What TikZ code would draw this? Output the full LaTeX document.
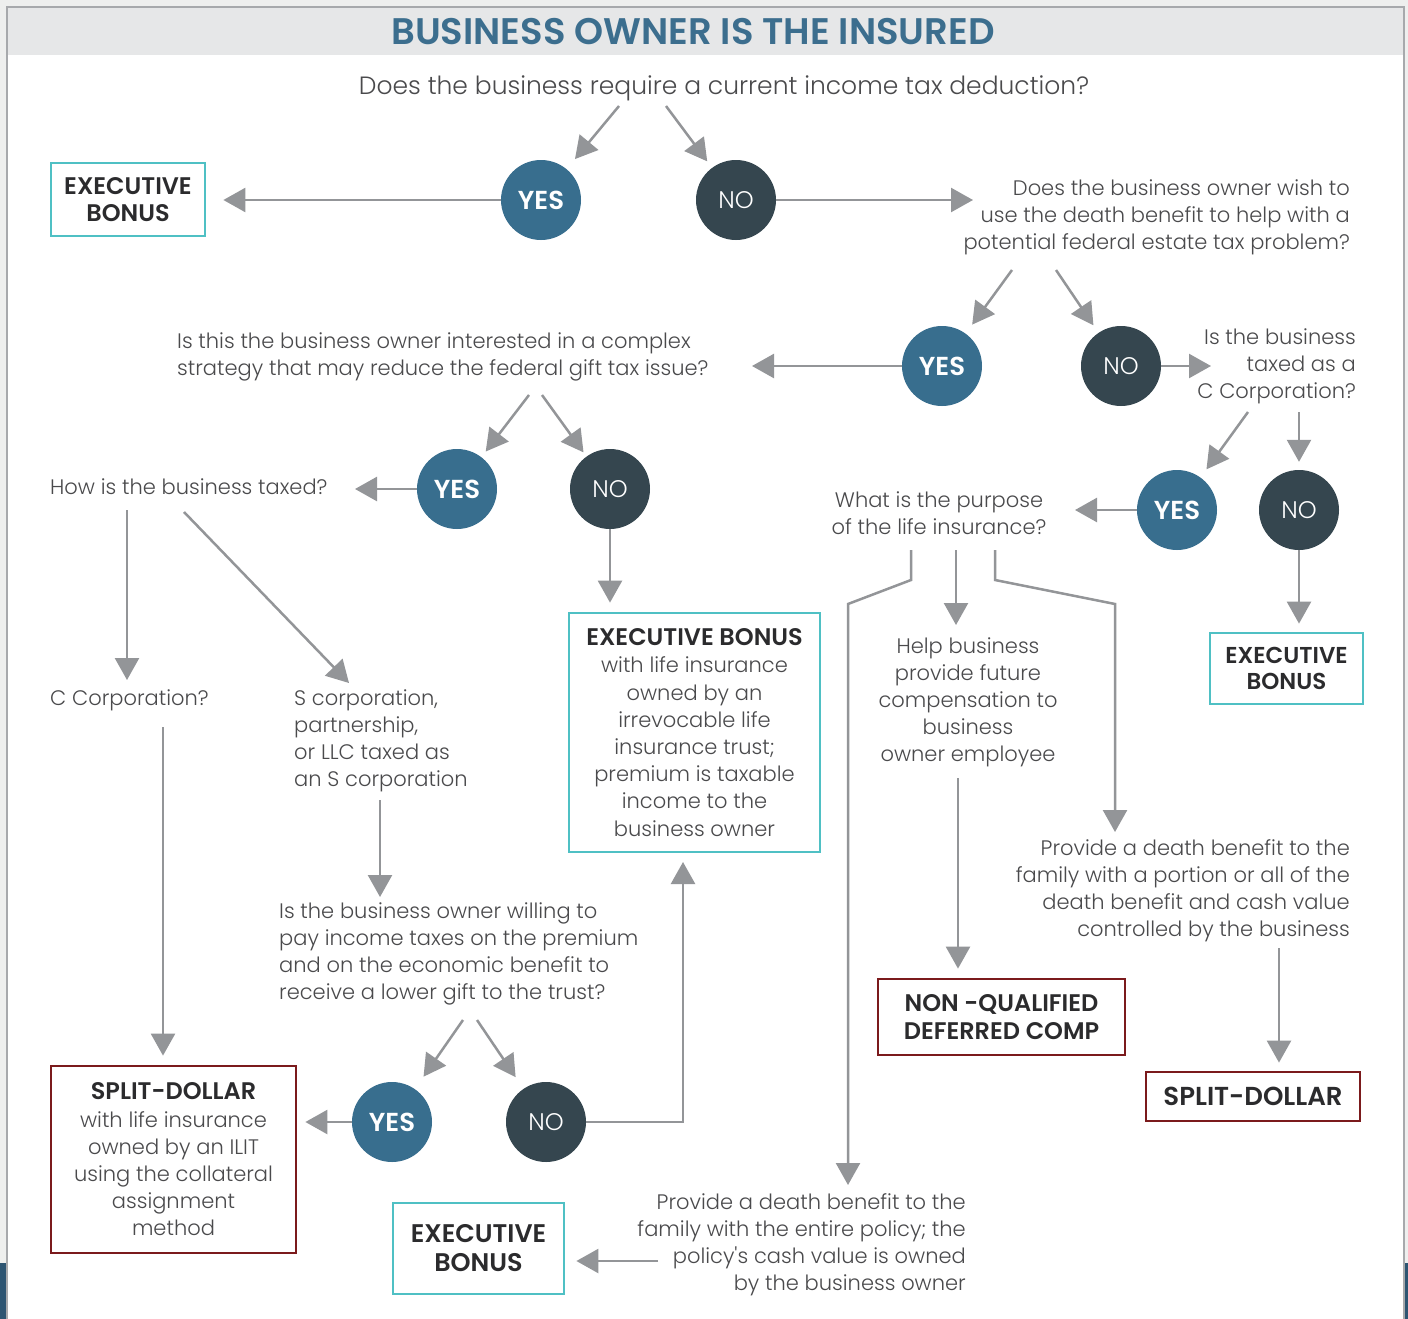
\documentclass[tikz,border=0pt]{standalone}
\usepackage{fontspec}
\setmainfont{Poppins}[UprightFont=* Light, BoldFont=* SemiBold, Ligatures=TeXOff]
\usetikzlibrary{arrows.meta,calc}

\definecolor{pagebg}{HTML}{EEEFEE}
\definecolor{bandgray}{HTML}{E6E7E8}
\definecolor{framegray}{HTML}{A7A9AC}
\definecolor{titleblue}{HTML}{3C6E8E}
\definecolor{yesblue}{HTML}{386E8E}
\definecolor{nodark}{HTML}{35464F}
\definecolor{arrowgray}{HTML}{939598}
\definecolor{bodygray}{HTML}{4A4A4C}
\definecolor{labeldark}{HTML}{2B2B2D}
\definecolor{tealc}{HTML}{4FC0C4}
\definecolor{maroon}{HTML}{7B1A1C}
\definecolor{edgeblue}{HTML}{2D5572}

% heading line inside a descriptive outcome box
\newcommand{\boxhead}[1]{{\color{labeldark}\fontsize{24}{27}\selectfont\bfseries #1}}

\tikzset{
  arr/.style={draw=arrowgray, line width=2.5pt, -{Triangle[length=22pt,width=24pt]}},
  yesc/.style={circle, fill=yesblue, minimum size=80pt, inner sep=0pt, text=white,
    font=\fontsize{26}{30}\selectfont\bfseries},
  noc/.style={circle, fill=nodark, minimum size=80pt, inner sep=0pt, text=white,
    font=\fontsize{24}{28}\selectfont},
  qtext/.style={inner sep=0pt, text=bodygray, font=\fontsize{21}{27}\selectfont},
  bigq/.style={inner sep=0pt, text=bodygray, font=\fontsize{25}{29}\selectfont},
  tealbox/.style={draw=tealc, line width=2.8pt, inner sep=0pt, align=center,
    text=labeldark, font=\fontsize{24}{27}\selectfont\bfseries},
  redbox/.style={draw=maroon, line width=2.8pt, inner sep=0pt, align=center,
    text=labeldark, font=\fontsize{24}{27}\selectfont\bfseries},
  boxbody/.style={text=bodygray, font=\fontsize{21}{27.2}\selectfont},
}

\begin{document}
\begin{tikzpicture}[x=1pt, y=-1pt]
  \useasboundingbox (0,0) rectangle (1408,1319);

  % page, frame and header band
  \fill[pagebg] (0,0) rectangle (1408,1319);
  \fill[edgeblue] (0,1263) rectangle (6,1319);
  \fill[edgeblue] (1405,1263) rectangle (1408,1319);
  \filldraw[fill=white, draw=framegray, line width=2.5pt] (7,7) rectangle (1404,1335);
  \fill[bandgray] (8.3,8.3) rectangle (1402.7,55);
  \node[text=titleblue, font=\fontsize{37}{40}\selectfont\bfseries, inner sep=0pt]
    (title) at (693,32) {BUSINESS OWNER IS THE INSURED};

  % questions and statements
  \node[bigq] (q1) at (724,88) {Does the business require a current income tax deduction?};
  \node[qtext, anchor=east, align=right] (q2) at (1350,217)
    {Does the business owner wish to\\use the death benefit to help with a\\potential federal estate tax problem?};
  \node[qtext, anchor=west, align=left] (q3) at (177,357)
    {Is this the business owner interested in a complex\\strategy that may reduce the federal gift tax issue?};
  \node[qtext, anchor=east, align=right] (q4) at (1356,366)
    {Is the business\\taxed as a\\C Corporation?};
  \node[qtext, align=center] (q5) at (939,513.5)
    {What is the purpose\\of the life insurance?};
  \node[qtext, align=center] (help) at (968,702)
    {Help business\\provide future\\compensation to\\business\\owner employee};
  \node[qtext, anchor=east, align=right] (q6) at (1350,890.5)
    {Provide a death benefit to the\\family with a portion or all of the\\death benefit and cash value\\controlled by the business};
  \node[qtext, anchor=east, align=right] (q7) at (966,1245)
    {Provide a death benefit to the\\family with the entire policy; the\\policy's cash value is owned\\by the business owner};
  \node[qtext, anchor=west] (q8) at (50,487) {How is the business taxed?};
  \node[qtext, anchor=west] (ccorp) at (50,700) {C Corporation?};
  \node[qtext, anchor=west, align=left] (scorp) at (294,741)
    {S corporation,\\partnership,\\or LLC taxed as\\an S corporation};
  \node[qtext, anchor=west, align=left] (q9) at (279,953.5)
    {Is the business owner willing to\\pay income taxes on the premium\\and on the economic benefit to\\receive a lower gift to the trust?};

  % yes / no circles
  \node[yesc] (y1) at (541,200) {YES};
  \node[noc]  (n1) at (736,200) {NO};
  \node[yesc] (y2) at (942,366) {YES};
  \node[noc]  (n2) at (1121,366) {NO};
  \node[yesc] (y3) at (457,489) {YES};
  \node[noc]  (n3) at (610,489) {NO};
  \node[yesc] (y4) at (1177,510) {YES};
  \node[noc]  (n4) at (1299,510) {NO};
  \node[yesc] (y5) at (392,1122) {YES};
  \node[noc]  (n5) at (546,1122) {NO};

  % outcome boxes
  \node[tealbox, minimum width=154pt, minimum height=73pt]
    (eb1) at (128,199.5) {EXECUTIVE\\BONUS};
  \node[tealbox, minimum width=153pt, minimum height=71pt, font=\fontsize{23}{26}\selectfont\bfseries]
    (eb2) at (1286.5,668.5) {EXECUTIVE\\BONUS};
  \node[tealbox, boxbody, minimum width=251pt, minimum height=239pt] (eb3) at (694.5,732.5)
    {\boxhead{EXECUTIVE BONUS}\\with life insurance\\owned by an\\irrevocable life\\insurance trust;\\premium is taxable\\income to the\\business owner};
  \node[tealbox, minimum width=171pt, minimum height=91pt, font=\fontsize{25.5}{29}\selectfont\bfseries]
    (eb4) at (478.5,1248.5) {EXECUTIVE\\BONUS};
  \node[redbox, boxbody, minimum width=245pt, minimum height=187pt] (sd1) at (173.5,1159.5)
    {\boxhead{SPLIT-DOLLAR}\\with life insurance\\owned by an ILIT\\using the collateral\\assignment\\method};
  \node[redbox, minimum width=214pt, minimum height=49pt, font=\fontsize{26}{28}\selectfont\bfseries]
    (sd2) at (1253,1096.5) {SPLIT-DOLLAR};
  \node[redbox, minimum width=247pt, minimum height=76pt, font=\fontsize{24}{28}\selectfont\bfseries]
    (nqdc) at (1001.5,1017) {NON -QUALIFIED\\DEFERRED COMP};

  % free ends of connectors
  \coordinate (q1l) at (619,106);
  \coordinate (q1r) at (666,106);
  \coordinate (q2in) at (973,200);
  \coordinate (q2l) at (1012,270);
  \coordinate (q2r) at (1056,270);
  \coordinate (q3in) at (752,366);
  \coordinate (q3l) at (529,395);
  \coordinate (q3r) at (542,395);
  \coordinate (q4in) at (1211,366);
  \coordinate (q4l) at (1248,412);
  \coordinate (q4r) at (1299,412);
  \coordinate (q5in) at (1075,510);
  \coordinate (q5l) at (911,550);
  \coordinate (q5m) at (956,550);
  \coordinate (q5r) at (995,550);
  \coordinate (helpin) at (956,625);
  \coordinate (q6in) at (1115,832);
  \coordinate (q7in) at (848,1185);
  \coordinate (q8in) at (355,489);
  \coordinate (q8l) at (127,510);
  \coordinate (q8r) at (184,512);
  \coordinate (ccin) at (127,680);
  \coordinate (scin) at (349,683);
  \coordinate (ccout) at (163,727);
  \coordinate (scout) at (380,800);
  \coordinate (q9in) at (380,897);
  \coordinate (q9l) at (463,1020);
  \coordinate (q9r) at (477,1020);
  \coordinate (helpout) at (958,778);
  \coordinate (q6out) at (1279,948);
  \coordinate (q7out) at (658,1261);

  % connectors
  \draw[arr, shorten >=13pt] (q1l) -- (y1);
  \draw[arr, shorten >=8pt]  (q1r) -- (n1);
  \draw[arr, shorten >=17pt] (y1.west) -- (eb1.east |- y1.west);
  \draw[arr] (n1.east) -- (q2in);

  \draw[arr, shorten >=11pt] (q2l) -- (y2);
  \draw[arr, shorten >=9pt]  (q2r) -- (n2);
  \draw[arr] (y2.west) -- (q3in);
  \draw[arr] (n2.east) -- (q4in);

  \draw[arr, shorten >=10pt] (q4l) -- (y4);
  \draw[arr, shorten >=8pt]  (q4r) -- (n4);
  \draw[arr] (y4.west) -- (q5in);
  \draw[arr, shorten >=8pt] (n4.south) -- (n4.south |- eb2.north);

  \draw[arr, shorten >=7pt] (q3l) -- (y3);
  \draw[arr, shorten >=5pt] (q3r) -- (n3);
  \draw[arr] (y3.west) -- (q8in);
  \draw[arr, shorten >=9pt] (n3.south) -- (n3.south |- eb3.north);

  \draw[arr] (q5l) -- ++(0,30) -- (848,604) -- (q7in);
  \draw[arr] (q5m) -- (helpin);
  \draw[arr] (q5r) -- ++(0,30) -- (1115,604) -- (q6in);
  \draw[arr, shorten >=9pt] (helpout) -- (helpout |- nqdc.north);
  \draw[arr, shorten >=8pt] (q6out) -- (q6out |- sd2.north);
  \draw[arr, shorten >=11pt] (q7out) -- (eb4.east |- q7out);

  \draw[arr] (q8l) -- (ccin);
  \draw[arr] (q8r) -- (scin);
  \draw[arr, shorten >=9pt] (ccout) -- (ccout |- sd1.north);
  \draw[arr] (scout) -- (q9in);

  \draw[arr, shorten >=15pt] (q9l) -- (y5);
  \draw[arr, shorten >=14pt] (q9r) -- (n5);
  \draw[arr, shorten >=8pt] (y5.west) -- (sd1.east |- y5.west);
  \draw[arr, shorten >=10pt] (n5.east) -- (683,1122) -- (683,852);
\end{tikzpicture}
\end{document}
